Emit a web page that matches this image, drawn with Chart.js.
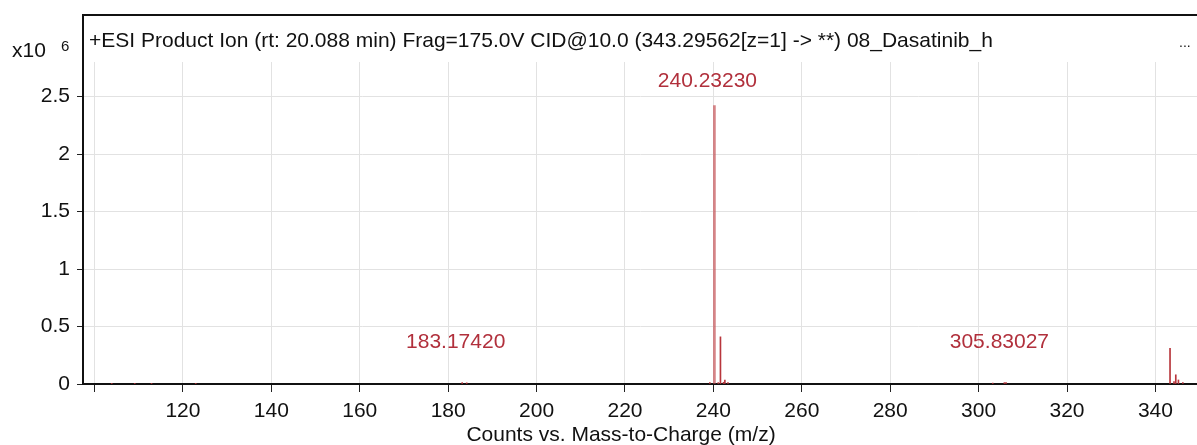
<!DOCTYPE html>
<html>
<head>
<meta charset="utf-8">
<script src="https://cdn.jsdelivr.net/npm/chart.js@4.4.0/dist/chart.umd.min.js"></script>
<style>
body { margin: 0; background: #fff; }
#wrap { width: 1197px; height: 445px; }
</style>
</head>
<body>
<div id="wrap"><canvas id="spectre"></canvas></div>
<script>
var titre = "+ESI Product Ion (rt: 20.088 min) Frag=175.0V CID@10.0 (343.29562[z=1] -> **) 08_Dasatinib_h";
var titreX = 'Counts vs. Mass-to-Charge (m/z)';
var xTicks = [100, 120, 140, 160, 180, 200, 220, 240, 260, 280, 300, 320, 340];
var xTickLabels = ['', '120', '140', '160', '180', '200', '220', '240', '260', '280', '300', '320', '340'];
var yTicks = [0, 0.5, 1, 1.5, 2, 2.5];
var yTickLabels = ['0', '0.5', '1', '1.5', '2', '2.5'];

// pic principal (x10^6 counts)
var mainMz = [240.2323];
var mainCounts = [2.42];

// autres pics
var minorMz = [103.9, 109.1, 112.9, 122.9, 183.1742, 184.2, 239.2, 241.1, 241.6, 242.3, 242.6, 243.3,
               303.2, 305.83027, 306.2, 343.3, 344.2, 344.6, 345.2, 346.2];
var minorCounts = [0.006, 0.006, 0.006, 0.006, 0.012, 0.01, 0.012, 0.012, 0.41, 0.015, 0.035, 0.012,
                   0.008, 0.012, 0.012, 0.31, 0.02, 0.08, 0.035, 0.012];

// étiquettes des pics
var labelMz = [240.2323, 183.1742, 305.83027];
var labelCounts = [2.42, 0.012, 0.012];
var labelText = ['240.23230', '183.17420', '305.83027'];

var police = '"Liberation Sans", Arial, sans-serif';

function pts(xs, ys) {
    return xs.map(function (x, i) { return { x: x, y: ys[i] }; });
}

var cadre = {
    id: 'cadre',
    afterDraw: function (chart) {
        var ctx = chart.ctx, a = chart.chartArea;
        var xs = chart.scales.x, ys = chart.scales.y;
        ctx.save();
        ctx.strokeStyle = '#111';
        ctx.lineWidth = 2;
        ctx.beginPath();
        ctx.moveTo(a.left, a.top);
        ctx.lineTo(a.left, 15);
        ctx.lineTo(chart.width, 15);
        ctx.stroke();

        ctx.fillStyle = '#111';
        ctx.textAlign = 'left';
        ctx.textBaseline = 'alphabetic';
        ctx.font = '21px ' + police;
        ctx.fillText(titre, 89, 47);
        ctx.fillText('x10', 12, 57);
        ctx.font = '15px ' + police;
        ctx.fillText('6', 61, 51);
        ctx.font = '14px ' + police;
        ctx.fillText('...', 1179, 47);

        // titre de l'axe x
        ctx.font = '21px ' + police;
        ctx.textAlign = 'center';
        ctx.fillText(titreX, 621, 441);

        /* étiquettes rouges au-dessus des pics */
        var dx = [-7, -6.5, -5];
        ctx.fillStyle = '#b1303c';
        ctx.font = '21px ' + police;
        ctx.textBaseline = 'middle';
        labelMz.forEach(function (mz, i) {
            var px = xs.getPixelForValue(mz) + dx[i];
            var py = Math.min(ys.getPixelForValue(labelCounts[i]) - 24, ys.getPixelForValue(0.36));
            ctx.fillText(labelText[i], px, py);
        });
        ctx.restore();
    }
};

var ctxS = document.getElementById('spectre');
var spectre = new Chart(ctxS, {
    type: 'bar',
    data: {
        datasets: [{
            label: 'main',
            data: pts(mainMz, mainCounts),
            backgroundColor: 'rgba(196, 80, 84, 0.7)',
            barThickness: 2
        }, {
            label: 'minor',
            data: pts(minorMz, minorCounts),
            backgroundColor: '#b8363c',
            barThickness: 1
        }]
    },
    options: {
        responsive: true,
        maintainAspectRatio: false,
        animation: false,
        layout: { padding: { top: 62, left: 0, right: 0, bottom: 0 } },
        datasets: { bar: { grouped: false } },
        plugins: { legend: { display: false }, tooltip: { enabled: false } },
        scales: {
            x: {
                type: 'linear',
                min: 97.4,
                max: 349.4,
                offset: false,
                afterBuildTicks: function (s) { s.ticks = xTicks.map(function (v) { return { value: v }; }); },
                afterFit: function (s) { s.height = 61; },
                grid: { color: '#e2e2e2', tickColor: '#222', tickLength: 8, offset: false },
                border: { display: true, color: '#111', width: 2 },
                ticks: {
                    color: '#111',
                    font: { family: police, size: 21 },
                    padding: 7,
                    maxRotation: 0,
                    autoSkip: false,
                    callback: function (v, i) { return xTickLabels[i]; }
                }
            },
            y: {
                min: 0,
                max: 2.8,
                afterBuildTicks: function (s) { s.ticks = yTicks.map(function (v) { return { value: v }; }); },
                afterFit: function (s) { s.width = 83; },
                grid: { color: '#e2e2e2', tickColor: '#222', tickLength: 6 },
                border: { display: true, color: '#111', width: 2 },
                ticks: {
                    color: '#111',
                    font: { family: police, size: 21 },
                    padding: 7,
                    callback: function (v, i) { return yTickLabels[i]; }
                }
            }
        }
    },
    plugins: [cadre]
});
</script>
</body>
</html>
